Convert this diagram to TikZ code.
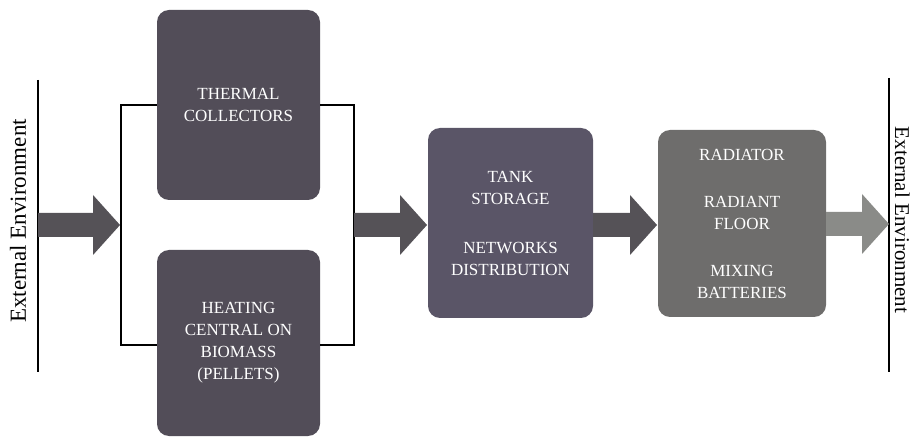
\documentclass[tikz,border=0pt]{standalone}
\usepackage{fontspec}
\setmainfont{Liberation Serif}
\usetikzlibrary{calc}
\definecolor{boxA}{HTML}{524D58}
\definecolor{boxT}{HTML}{5A5567}
\definecolor{boxR}{HTML}{6E6D6C}
\definecolor{arrD}{HTML}{555257}
\definecolor{arrL}{HTML}{8A8B88}
\tikzset{
  blk/.style={fill=#1, draw=none, rounded corners=12pt, inner sep=0pt,
    text=white, align=center, font=\fontsize{17}{22}\selectfont},
  fatarrow/.style={fill=#1, draw=none},
  wire/.style={draw=black, line width=1.4pt},
  envtext/.style={font=\fontsize{23}{26}\selectfont, inner sep=0pt}
}
\newcommand{\fatarr}[3]{% color, start, tip
  \fill[fatarrow=#1]
    ($(#2)+(0,-12)$) -- ($(#3)+(-27,-12)$) -- ($(#3)+(-27,-30)$) -- (#3)
    -- ($(#3)+(-27,30)$) -- ($(#3)+(-27,12)$) -- ($(#2)+(0,12)$) -- cycle;}
\begin{document}
\begin{tikzpicture}[x=1pt,y=-1pt]
\useasboundingbox (0,0) rectangle (913,438);
% boundary lines
\coordinate (eLt) at (38,80);
\coordinate (eLb) at (38,372);
\coordinate (eRt) at (889,78);
\coordinate (eRb) at (889,372);
\draw[wire] (eLt) -- (eLb);
\draw[wire] (eRt) -- (eRb);
\node[envtext, rotate=90] (envL) at (18,221) {External Environment};
\node[envtext, rotate=-90, anchor=base, font=\fontsize{21}{24}\selectfont] (envR) at (895,220) {External Environment};
% boxes
\node[blk=boxA, minimum width=163pt, minimum height=190pt] (therm) at (238.5,105)
  {\fontsize{17}{26}\selectfont THERMAL\\COLLECTORS};
\node[blk=boxA, minimum width=163pt, minimum height=186pt] (heat) at (238.5,343)
  {\fontsize{17}{21.5}\selectfont HEATING\\CENTRAL ON\\BIOMASS\\(PELLETS)};
\node[blk=boxT, minimum width=165pt, minimum height=190pt] (tank) at (510.5,223)
  {\fontsize{17}{23}\selectfont TANK\\STORAGE\\[27pt]NETWORKS\\DISTRIBUTION};
\node[blk=boxR, minimum width=168pt, minimum height=187pt] (rad) at (742,223.5)
  {\fontsize{17}{23.5}\selectfont RADIATOR\\[25pt]RADIANT\\FLOOR\\[25pt]MIXING\\BATTERIES};
% bracket wires
\coordinate (bLt) at (121,105);
\coordinate (bLb) at (121,345);
\coordinate (bRt) at (354,105);
\coordinate (bRb) at (354,345);
\draw[wire] (therm.west |- bLt) -- (bLt) -- (bLb) -- (heat.west |- bLb);
\draw[wire] (therm.east |- bRt) -- (bRt) -- (bRb) -- (heat.east |- bRb);
% block arrows
\coordinate (a1s) at (38,225);  \coordinate (a1e) at (120,225);
\coordinate (a2s) at (354,225); \coordinate (a2e) at (427,225);
\coordinate (a3s) at (593,225); \coordinate (a3e) at (657,225);
\coordinate (a4s) at (826,224); \coordinate (a4e) at (889,224);
\fatarr{arrD}{a1s}{a1e}
\fatarr{arrD}{a2s}{a2e}
\fatarr{arrD}{a3s}{a3e}
\fatarr{arrL}{a4s}{a4e}
\end{tikzpicture}
\end{document}
